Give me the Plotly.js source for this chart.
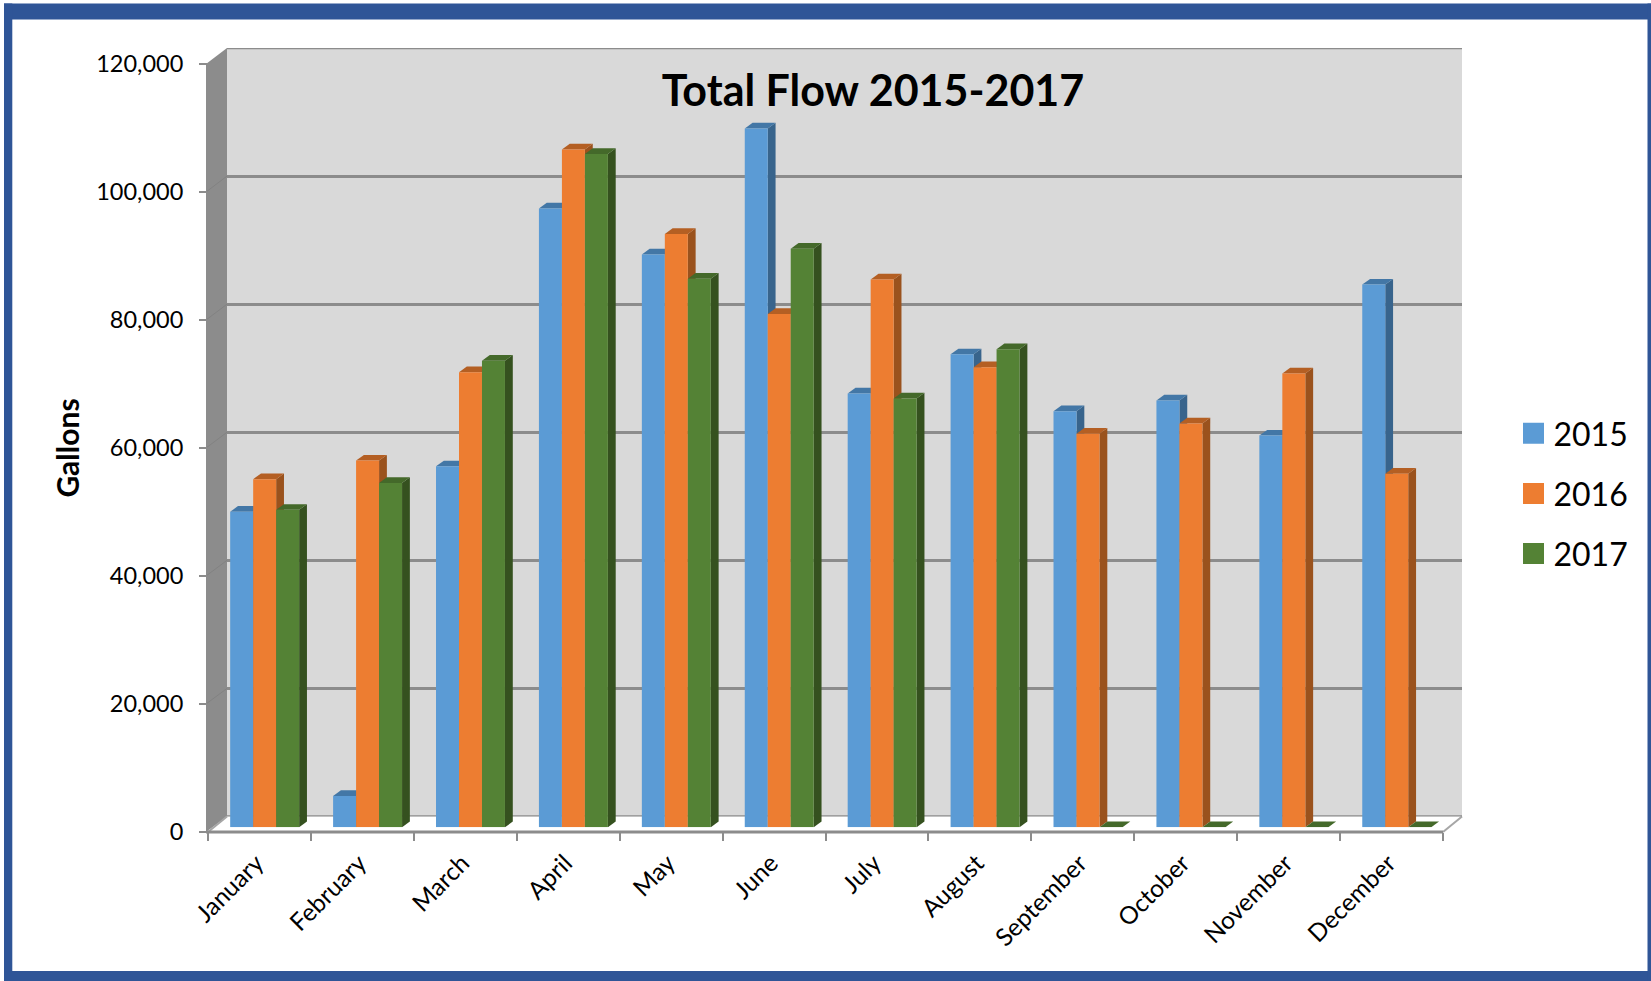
<!DOCTYPE html>
<html>
<head>
<meta charset="utf-8">
<title>Total Flow 2015-2017</title>
<script src="https://cdn.plot.ly/plotly-3.0.1.min.js"></script>
<style>html,body{margin:0;padding:0;background:#fff}#chart{width:1651px;height:981px}</style>
</head>
<body>
<div id="chart"></div>
<script>
// ---- data ----
const months = ["January","February","March","April","May","June","July","August","September","October","November","December"];
const v2015 = [49300, 4900, 56400, 96700, 89500, 109200, 67800, 73900, 65000, 66700, 61200, 84800];
const v2016 = [54400, 57300, 71100, 105900, 92700, 80200, 85600, 71900, 61500, 63100, 70900, 55250];
const v2017 = [49600, 53800, 72900, 105200, 85700, 90400, 67000, 74700, 0, 0, 0, 0];
const seriesNames = ["2015","2016","2017"];
const seriesValues = [v2015, v2016, v2017];
const frontColors = ["#5B9BD5","#ED7D31","#548235"];
const sideColors  = ["#38648C","#9A521D","#35511F"];
const topColors   = ["#4377A6","#B45F23","#44692A"];
const yTicks = [0,20000,40000,60000,80000,100000,120000];

// ---- geometry of the page (pixels) ----
const W = 1651, H = 981;
const fx = p => p / W, fy = p => 1 - p / H;
const GRAY = "#8C8C8C", BLUE = "#2F5597";
const front = {l:208, r:1443, t:64, b:832};
const wall  = {l:227, r:1462, t:48, b:816.5};
const barsP = {l:213.2, r:1448.2, t:59.3, b:827.3};
const bargap = 0.33;
const depthX = 0.076;   // category units
const depthY = 890;     // gallons
const bw = (1 - bargap) / 3;
const idx = months.map((_, i) => i);

const rect = (x0,y0,x1,y1,fill) => ({type:"rect",xref:"paper",yref:"paper",layer:"below",
  x0:fx(x0),x1:fx(x1),y0:fy(y0),y1:fy(y1),fillcolor:fill,line:{width:0}});
const pPath = (pts,fill) => ({type:"path",xref:"paper",yref:"paper",layer:"below",
  path:"M"+pts.map(q=>fx(q[0])+","+fy(q[1])).join("L")+"Z",fillcolor:fill,line:{width:0}});
const pLine = (x0,y0,x1,y1,c,w) => ({type:"line",xref:"paper",yref:"paper",layer:"below",
  x0:fx(x0),x1:fx(x1),y0:fy(y0),y1:fy(y1),line:{color:c,width:w}});

const shapes = [];
// wall, side wall and floor edges
shapes.push(rect(wall.l,wall.t,wall.r,wall.b,"#D9D9D9"));
shapes.push(pPath([[206,front.b],[206,front.t],[wall.l,wall.t],[wall.l,wall.b]],GRAY));
yTicks.slice(1,-1).forEach(v=>{
  const k = v/120000, yF = front.b-(front.b-front.t)*k, yW = wall.b-(wall.b-wall.t)*k;
  shapes.push(pLine(206,yF,wall.l,yW,"#828282",1));
});
shapes.push(pPath([[207,front.b],[wall.l,wall.b],[wall.r,wall.b],[front.r,front.b]],"#FFFFFF"));
shapes.push(pLine(front.l,front.b,wall.l,wall.b,"#A6A6A6",2));
shapes.push(pLine(front.r,front.b,wall.r,wall.b,"#A6A6A6",2));
// top and bottom edge of the wall, and the front floor edge
[yTicks[0],yTicks[yTicks.length-1]].forEach(v=>{
  shapes.push({type:"line",xref:"x",yref:"y",layer:"below",x0:0,x1:1,y0:v,y1:v,line:{color:GRAY,width:2.5}});
});
shapes.push(pLine(front.l-2,front.b,front.r,front.b,GRAY,3));

// depth faces of every bar, drawn under the bar fronts in series order
seriesValues.forEach((vals,s)=>{
  vals.forEach((v,i)=>{
    const xl = i + (s-1)*bw - bw/2, xr = xl + bw;
    shapes.push({type:"path",xref:"x3",yref:"y3",layer:"below",
      path:`M${xr},0L${xr+depthX},${depthY}L${xr+depthX},${v+depthY}L${xr},${v}Z`,
      fillcolor:sideColors[s],line:{width:0}});
    shapes.push({type:"path",xref:"x3",yref:"y3",layer:"below",
      path:`M${xl},${v}L${xl+depthX},${v+depthY}L${xr+depthX},${v+depthY}L${xr},${v}Z`,
      fillcolor:topColors[s],line:{width:0}});
  });
});

// frame
shapes.push(rect(4,3.5,W,19.5,BLUE));
shapes.push(rect(4,3.5,12.3,H,BLUE));
shapes.push(rect(4,971,W,H,BLUE));
shapes.push(rect(1647.5,3.5,W,H,BLUE));

// empty traces that make the wall and the labelled front axes exist as subplots
const wallTrace = {type:"scatter",mode:"none",x:[0,1],y:[0,120000],xaxis:"x",yaxis:"y",showlegend:false,hoverinfo:"skip"};
const frontTrace = {type:"scatter",mode:"none",x:months,y:months.map(()=>0),xaxis:"x2",yaxis:"y2",showlegend:false,hoverinfo:"skip"};

const barTraces = seriesValues.map((vals,s)=>({
  type:"bar", name:seriesNames[s], legendgroup:seriesNames[s],
  x:idx, y:vals, xaxis:"x3", yaxis:"y3",
  marker:{color:frontColors[s],line:{width:0}},
  customdata:months, hovertemplate:"%{customdata}: %{y:,}<extra>"+seriesNames[s]+"</extra>"
}));

const layout = {
  width:W, height:H, margin:{l:0,r:0,t:0,b:0,pad:0},
  paper_bgcolor:"#FFFFFF", plot_bgcolor:"rgba(0,0,0,0)",
  font:{family:"Lato, Carlito, sans-serif",color:"#000000",size:23},
  title:{text:"Total Flow 2015-2017",x:fx(873),xanchor:"center",xref:"paper",
         y:fy(91),yanchor:"middle",yref:"paper",
         font:{family:"Lato, sans-serif",size:43,weight:700,color:"#000000"}},
  barmode:"group", bargap:bargap, bargroupgap:0,
  showlegend:true,
  legend:{x:fx(1513.5),xanchor:"left",y:fy(406),yanchor:"top",bgcolor:"rgba(0,0,0,0)",
          borderwidth:0,font:{size:32,family:"Lato, sans-serif"},tracegroupgap:15.5,traceorder:"grouped"},
  shapes:shapes,
  // back wall
  xaxis:{domain:[fx(wall.l),fx(wall.r)],anchor:"y",range:[0,1],showgrid:false,zeroline:false,
         showticklabels:false,ticks:"",showline:false,fixedrange:true},
  yaxis:{domain:[fy(wall.b),fy(wall.t)],anchor:"x",range:[0,120000],tickvals:yTicks,showgrid:true,
         gridcolor:GRAY,gridwidth:2.5,zeroline:false,showticklabels:false,ticks:"",showline:false,fixedrange:true},
  // front plane: the labelled axes
  xaxis2:{domain:[fx(front.l),fx(front.r)],anchor:"y2",type:"category",categoryorder:"array",categoryarray:months,
          range:[-0.5,11.5],tickson:"boundaries",tickangle:-45,ticks:"outside",ticklen:8,tickwidth:1.5,tickcolor:GRAY,
          showgrid:false,zeroline:false,showline:false,ticklabelstandoff:11,ticklabelshift:-3,
          tickfont:{size:24.5},fixedrange:true},
  yaxis2:{domain:[fy(front.b),fy(front.t)],anchor:"x2",range:[0,120000],tickvals:yTicks,tickformat:",d",
          ticks:"outside",ticklen:8,tickwidth:1.5,tickcolor:GRAY,showgrid:false,zeroline:false,showline:false,
          ticklabelstandoff:11,tickfont:{size:23.5},fixedrange:true,
          title:{text:"Gallons",standoff:7,font:{size:30,weight:700,family:"Lato, sans-serif"}}},
  // bar plane: set back from the front plane
  xaxis3:{domain:[fx(barsP.l),fx(barsP.r)],anchor:"y3",range:[-0.5,11.5],visible:false,fixedrange:true},
  yaxis3:{domain:[fy(barsP.b),fy(barsP.t)],anchor:"x3",range:[0,120000],visible:false,fixedrange:true}
};

Plotly.newPlot("chart",[wallTrace,frontTrace].concat(barTraces),layout,{displayModeBar:false,responsive:false}).then(gd=>{
  gd.querySelectorAll(".legend .legendsymbols path").forEach(p=>p.setAttribute("d","M10.5,10.5H-10.5V-10.5H10.5Z"));
});
</script>
</body>
</html>
